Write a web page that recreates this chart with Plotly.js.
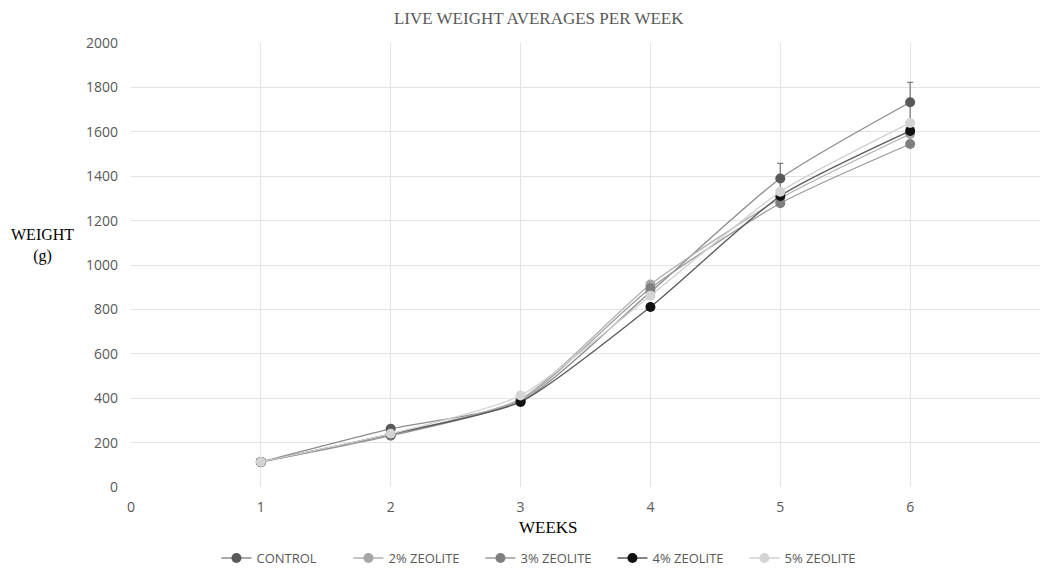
<!DOCTYPE html>
<html>
<head>
<meta charset="utf-8">
<script src="https://cdn.plot.ly/plotly-3.0.1.min.js"></script>
<style>html,body{margin:0;padding:0;background:#fff;}#chart{width:1040px;height:569px;}</style>
</head>
<body>
<div id="chart"></div>
<script>
const weeks = [1, 2, 3, 4, 5, 6];
const seriesNames = ["CONTROL", "2% ZEOLITE", "3% ZEOLITE", "4% ZEOLITE", "5% ZEOLITE"];
const control = [113, 262, 385, 878, 1390, 1733];
const zeolite2 = [113, 236, 396, 912, 1300, 1590];
const zeolite3 = [112, 231, 390, 895, 1278, 1545];
const zeolite4 = [113, 238, 383, 811, 1311, 1604];
const zeolite5 = [113, 240, 412, 862, 1330, 1640];
const controlError = [0, 0, 0, 0, 68, 90];
const xTicks = [0, 1, 2, 3, 4, 5, 6, 7];
const yTicks = [0, 200, 400, 600, 800, 1000, 1200, 1400, 1600, 1800, 2000];

const colors = ["#595959", "#a6a6a6", "#7f7f7f", "#111111", "#d4d4d4"];
const lineColors = ["#8c8c8c", "#b0b0b0", "#9a9a9a", "#5a5a5a", "#d0d0d0"];
const values = [control, zeolite2, zeolite3, zeolite4, zeolite5];

const data = values.map((v, i) => {
  const t = {
    x: weeks, y: v, name: seriesNames[i], type: "scatter", mode: "lines+markers",
    line: {color: lineColors[i], width: 1.3, shape: "spline", smoothing: 0.6},
    marker: {color: colors[i], size: 10, line: {width: 0}}
  };
  if (i === 0) {
    t.error_y = {type: "data", array: controlError, visible: true, color: "#7f7f7f", thickness: 1.3, width: 3};
  }
  return t;
});

const layout = {
  width: 1040, height: 569,
  margin: {l: 131, r: 0, t: 43, b: 82, autoexpand: false},
  paper_bgcolor: "#fff", plot_bgcolor: "#fff",
  showlegend: true,
  title: {text: "LIVE WEIGHT AVERAGES PER WEEK", x: 0.518, xref: "container", xanchor: "center", y: 0.968, yanchor: "middle",
    font: {family: "Liberation Serif, serif", size: 17, color: "#595959"}},
  xaxis: {range: [0, 7], tickvals: xTicks, ticktext: xTicks.map(String), showgrid: true, gridcolor: "#e3e3e3", gridwidth: 1,
    zeroline: false, showline: false, ticks: "", ticklabelstandoff: 10,
    tickfont: {family: "Open Sans, sans-serif", size: 14, color: "#595959"}, fixedrange: true},
  yaxis: {range: [0, 2000], tickvals: yTicks, showgrid: true, gridcolor: "#e3e3e3", gridwidth: 1,
    zeroline: false, showline: false, ticks: "", ticklabelstandoff: 12,
    tickfont: {family: "Open Sans, sans-serif", size: 14, color: "#595959"}},
  legend: {orientation: "h", x: 0.094, xanchor: "left", y: -0.16, yanchor: "middle",
    entrywidth: 87, entrywidthmode: "pixels",
    font: {family: "Open Sans, sans-serif", size: 13, color: "#595959"}, traceorder: "normal"},
  annotations: [
    {text: "WEIGHT<br>(g)", xref: "paper", yref: "paper", x: -0.097, y: 0.545, xanchor: "center", yanchor: "middle",
      showarrow: false, font: {family: "Liberation Serif, serif", size: 16, color: "#000"}},
    {text: "WEEKS", xref: "paper", yref: "paper", x: 0.459, y: -0.092, xanchor: "center", yanchor: "middle",
      showarrow: false, font: {family: "Liberation Serif, serif", size: 17, color: "#000"}}
  ]
};

Plotly.newPlot("chart", data, layout, {displayModeBar: false, staticPlot: true});
</script>
</body>
</html>
